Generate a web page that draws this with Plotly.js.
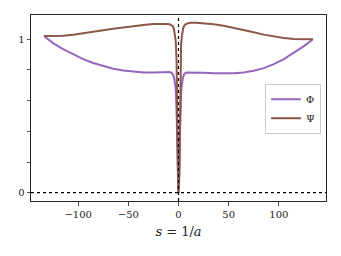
<!DOCTYPE html>
<html>
<head>
<meta charset="utf-8">
<script src="https://cdn.plot.ly/plotly-3.0.1.min.js"></script>
<style>html,body{margin:0;padding:0;background:#fff;}#chart{width:341px;height:256px;}</style>
</head>
<body>
<div id="chart"></div>
<script>
// s = 1/a
const sVals = [-134, -125, -115, -105, -95, -85, -75, -65, -55, -45, -35, -25, -18, -12, -9, -7, -5.6, -4.5, -3.6, -3, -2.6, -2.2, -1.9, -1.7, -1.5, -1.3, -1.1, -0.8, -0.4, 0,
               0.4, 0.8, 1.1, 1.3, 1.5, 1.7, 1.9, 2.2, 2.6, 3, 3.6, 4.5, 5.6, 7, 9, 12, 18, 25, 35, 45, 55, 65, 75, 85, 95, 105, 115, 125, 134];
// Phi values
const phiVals = [1.021, 0.975, 0.935, 0.900, 0.870, 0.845, 0.825, 0.808, 0.796, 0.788, 0.783, 0.783, 0.785, 0.786, 0.786, 0.783, 0.772, 0.752, 0.72, 0.69, 0.655, 0.60, 0.54, 0.48, 0.40, 0.30, 0.20, 0.10, 0.03, 0,
                 0.03, 0.10, 0.20, 0.30, 0.40, 0.48, 0.54, 0.60, 0.655, 0.69, 0.72, 0.752, 0.772, 0.782, 0.784, 0.784, 0.783, 0.781, 0.779, 0.777, 0.778, 0.784, 0.795, 0.812, 0.838, 0.870, 0.910, 0.955, 1.0];
// Psi values
const psiVals = [1.021, 1.021, 1.023, 1.030, 1.038, 1.048, 1.058, 1.068, 1.077, 1.086, 1.093, 1.099, 1.101, 1.100, 1.098, 1.093, 1.085, 1.065, 1.037, 1.00, 0.97, 0.92, 0.85, 0.75, 0.58, 0.38, 0.22, 0.10, 0.03, 0,
                 0.03, 0.10, 0.22, 0.38, 0.58, 0.75, 0.85, 0.92, 0.97, 1.00, 1.037, 1.068, 1.087, 1.097, 1.103, 1.107, 1.107, 1.104, 1.098, 1.088, 1.075, 1.060, 1.045, 1.030, 1.017, 1.008, 1.002, 1.000, 1.000];
const seriesNames = ['\u03A6', '\u03A8'];
const xTickVals = [-100, -50, 0, 50, 100];
const xTickText = ['\u2212100', '\u221250', '0', '50', '100'];
const yTickVals = [0, 0.2, 0.4, 0.6, 0.8, 1];
const yTickText = ['0', '', '', '', '', '1'];

const font = '"DejaVu Serif", "Liberation Serif", serif';
const traces = [
  {x: sVals, y: phiVals, name: seriesNames[0], mode: 'lines', line: {color: '#9467bd', width: 2}},
  {x: sVals, y: psiVals, name: seriesNames[1], mode: 'lines', line: {color: '#8c564b', width: 2}}
];
const axisCommon = {
  showgrid: false, zeroline: false, showline: true, mirror: true,
  linecolor: '#222', linewidth: 1, ticks: 'outside', ticklen: 3.5, tickwidth: 0.8, tickcolor: '#222',
  tickfont: {family: font, size: 10, color: '#222'}
};
const layout = {
  width: 341, height: 256,
  margin: {l: 31, r: 15, t: 15, b: 55},
  paper_bgcolor: '#fff', plot_bgcolor: '#fff',
  font: {family: font, color: '#222'},
  showlegend: true,
  legend: {x: 0.983, y: 0.496, xanchor: 'right', yanchor: 'middle', bgcolor: '#fff', bordercolor: '#ccc', borderwidth: 1,
           font: {family: font, size: 10}, itemwidth: 30},
  xaxis: Object.assign({}, axisCommon, {range: [-147, 147], tickmode: 'array', tickvals: xTickVals, ticktext: xTickText,
           title: {text: '<i>s</i> = 1/<i>a</i>', font: {family: font, size: 13, color: '#222'}, standoff: 8}}),
  yaxis: Object.assign({}, axisCommon, {range: [-0.054, 1.158], tickmode: 'array', tickvals: yTickVals, ticktext: yTickText}),
  shapes: [
    {type: 'line', xref: 'paper', yref: 'y', x0: 0, x1: 1, y0: 0, y1: 0, line: {color: '#000', width: 1.2, dash: 'dot'}, layer: 'above'},
    {type: 'line', xref: 'x', yref: 'paper', x0: 0, x1: 0, y0: 0, y1: 1, line: {color: '#000', width: 1.2, dash: 'dot'}, layer: 'above'}
  ]
};
Plotly.newPlot('chart', traces, layout, {displayModeBar: false, staticPlot: true});
</script>
</body>
</html>
